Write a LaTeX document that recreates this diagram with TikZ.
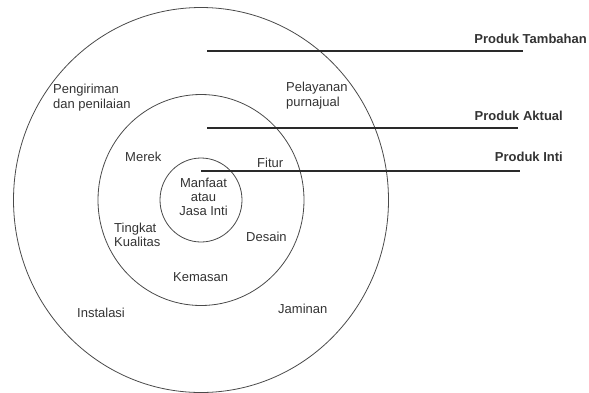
\documentclass[tikz,border=0pt]{standalone}
\usepackage{fontspec}
\setmainfont{Liberation Sans}
\definecolor{txt}{HTML}{333333}
\definecolor{ring}{HTML}{4A4A4A}
\definecolor{bar}{HTML}{2A2A2A}
\begin{document}
\begin{tikzpicture}[x=1pt,y=-1pt,
  lbl/.style={font=\fontsize{13}{15}\selectfont, text=txt, inner sep=0pt, anchor=base west, align=left},
  lblc/.style={font=\fontsize{13}{14}\selectfont, text=txt, inner sep=0pt, anchor=base, align=center},
  head/.style={font=\fontsize{13}{15}\selectfont\bfseries, text=txt, inner sep=0pt, anchor=base east},
  ringline/.style={draw=ring, line width=0.8pt},
  barline/.style={draw=bar, line width=1.5pt}]
\useasboundingbox (0,0) rectangle (589,392);
\coordinate (c) at (201,200);
\draw[ringline] (c) ellipse [x radius=187.5, y radius=192.5];
\draw[ringline] (c) ellipse [x radius=103, y radius=105.5];
\draw[ringline] (c) ellipse [x radius=41, y radius=42];
% bars
\coordinate (t1) at (207,51);  \coordinate (t2) at (523,51);
\coordinate (a1) at (207,128); \coordinate (a2) at (518,128);
\coordinate (i1) at (201,171); \coordinate (i2) at (520,171);
\draw[barline] (t1) -- (t2);
\draw[barline] (a1) -- (a2);
\draw[barline] (i1) -- (i2);
% headings
\node[head] (ht) at (587,43) {Produk Tambahan};
\node[head] (ha) at (563,120) {Produk Aktual};
\node[head] (hi) at (563,161) {Produk Inti};
% labels (multi-line nodes: base = last line baseline)
\node[lbl] (peng) at (53,108) {Pengiriman\\dan penilaian};
\node[lbl] (pel) at (286,106) {Pelayanan\\purnajual};
\node[lbl] (mer) at (125,161) {Merek};
\node[lbl] (fit) at (257,167) {Fitur};
\node[lblc] (man) at (203.5,215) {Manfaat\\atau\\Jasa Inti};
\node[lbl, font=\fontsize{13}{14}\selectfont] (ting) at (114,246) {Tingkat\\Kualitas};
\node[lbl] (des) at (246,241) {Desain};
\node[lbl] (kem) at (173,281) {Kemasan};
\node[lbl] (ins) at (77,317) {Instalasi};
\node[lbl] (jam) at (278,313) {Jaminan};
\end{tikzpicture}
\end{document}
